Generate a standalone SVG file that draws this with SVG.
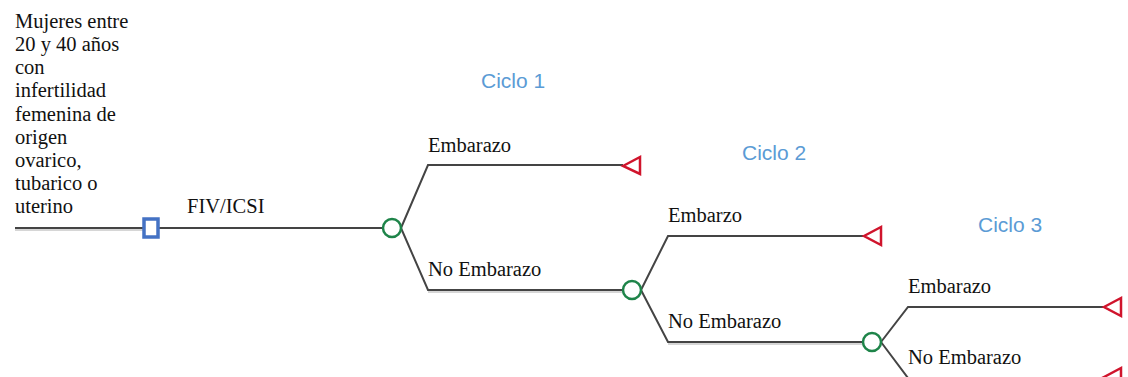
<svg xmlns="http://www.w3.org/2000/svg" width="1128" height="377" viewBox="0 0 1128 377">
<style>
.t{font-family:"Liberation Serif","Times New Roman",serif;font-size:20.5px;fill:#111}
.c{font-family:"Liberation Sans",Arial,sans-serif;font-size:21px;fill:#5B9BD5}
.ln{fill:none;stroke:#444;stroke-width:2}
.sh{fill:none;stroke:#c8c8c8;stroke-width:1.5}
.chance{fill:#fff;stroke:#1E8449;stroke-width:2.5}
.term{fill:#fff;stroke:#D0142C;stroke-width:2.5}
.dec{fill:#fff;stroke:#4472C4;stroke-width:3.5}
</style>
<rect width="1128" height="377" fill="#fff"/>
<g id="connectors">
<line class="sh" x1="15" y1="230" x2="144" y2="230"/>
<path class="ln" d="M15 228H383"/>
<path class="ln" d="M401 228L428 165H623"/>
<path class="sh" d="M428 292H623"/>
<path class="ln" d="M401 228L428 290H623"/>
<path class="ln" d="M641 290L668 236H863"/>
<path class="sh" d="M668 344H863"/>
<path class="ln" d="M641 290L668 342H863"/>
<path class="ln" d="M881 342L908 307H1103"/>
<path class="ln" d="M881 342L908 378H1103"/>
</g>
<g id="label-poblacion" class="t">
<text x="15" y="28">Mujeres entre</text>
<text x="15" y="51">20 y 40 años</text>
<text x="15" y="74">con</text>
<text x="15" y="97">infertilidad</text>
<text x="15" y="121">femenina de</text>
<text x="15" y="144">origen</text>
<text x="15" y="167">ovarico,</text>
<text x="15" y="190">tubarico o</text>
<text x="15" y="213">uterino</text>
</g>
<g id="decision"><rect class="dec" x="144" y="219" width="14" height="18"/></g>
<g id="label-fiv"><text class="t" x="187" y="213">FIV/ICSI</text></g>
<g id="chance1"><circle class="chance" cx="392" cy="228" r="9"/></g>
<g id="ciclo1"><text class="c" x="481" y="88">Ciclo 1</text></g>
<g id="e1"><text class="t" x="428" y="152">Embarazo</text><polygon class="term" points="623,166 640,157 640,174"/></g>
<g id="ne1"><text class="t" x="428" y="276">No Embarazo</text></g>
<g id="chance2"><circle class="chance" cx="632" cy="290" r="9"/></g>
<g id="ciclo2"><text class="c" x="742" y="160">Ciclo 2</text></g>
<g id="e2"><text class="t" x="668" y="222">Embarzo</text><polygon class="term" points="864,236 881,227 881,245"/></g>
<g id="ne2"><text class="t" x="668" y="328">No Embarazo</text></g>
<g id="chance3"><circle class="chance" cx="872" cy="342" r="9"/></g>
<g id="ciclo3"><text class="c" x="978" y="232">Ciclo 3</text></g>
<g id="e3"><text class="t" x="908" y="293">Embarazo</text><polygon class="term" points="1104,307 1121,298 1121,316"/></g>
<g id="ne3"><text class="t" x="908" y="364">No Embarazo</text><polygon class="term" points="1104,377 1121,368 1121,386"/></g>
</svg>
